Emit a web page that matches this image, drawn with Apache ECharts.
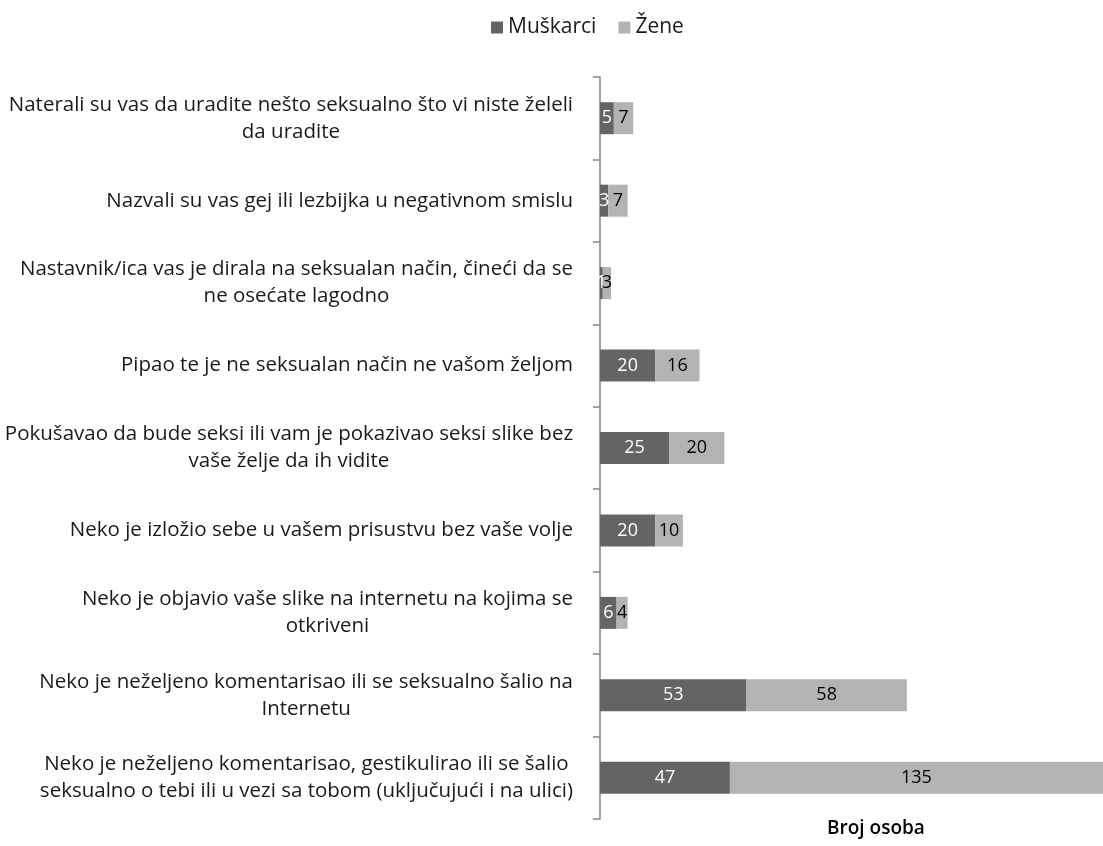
<!DOCTYPE html>
<html>
<head>
<meta charset="utf-8">
<script src="https://cdn.jsdelivr.net/npm/echarts@6/dist/echarts.min.js"></script>
<style>
  html, body { margin: 0; padding: 0; background: #fff; }
  #chart { width: 1103px; height: 846px; }
</style>
</head>
<body>
<div id="chart"></div>
<script>
// kategorije (odozgo nadole)
var categories = [
  'Naterali su vas da uradite nešto seksualno što vi niste želeli\nda uradite',
  'Nazvali su vas gej ili lezbijka u negativnom smislu',
  'Nastavnik/ica vas je dirala na seksualan način, čineći da se\nne osećate lagodno',
  'Pipao te je ne seksualan način ne vašom željom',
  'Pokušavao da bude seksi ili vam je pokazivao seksi slike bez\nvaše želje da ih vidite',
  'Neko je izložio sebe u vašem prisustvu bez vaše volje',
  'Neko je objavio vaše slike na internetu na kojima se\notkriveni',
  'Neko je neželjeno komentarisao ili se seksualno šalio na\nInternetu',
  'Neko je neželjeno komentarisao, gestikulirao ili se šalio\nseksualno o tebi ili u vezi sa tobom (uključujući i na ulici)'
]
var muskarci = [5, 3, 1, 20, 25, 20, 6, 53, 47]
var zene = [7, 7, 3, 16, 20, 10, 4, 58, 135]

var FONT = 'Open Sans'

var chart = echarts.init(document.getElementById('chart'))
chart.setOption({
  backgroundColor: '#ffffff',
  animation: false,
  textStyle: { fontFamily: FONT },
  legend: {
    top: 12,
    left: 486,
    icon: 'rect',
    itemWidth: 12,
    itemHeight: 12,
    itemGap: 22,
    textStyle: { fontSize: 21, color: '#1a1a1a', fontFamily: FONT },
    data: ['Muškarci', 'Žene']
  },
  grid: {
    top: 77,
    bottom: 27,
    left: 600,
    right: 0,
    containLabel: false
  },
  xAxis: {
    type: 'value',
    min: 0,
    max: 182,
    show: false,
    splitLine: { show: false }
  },
  // y osa sa kategorijama
  yAxis: {
    type: 'category',
    inverse: true,
    data: categories,
    axisLine: { show: true, lineStyle: { color: '#868686', width: 1.5 } },
    axisTick: { show: true, inside: false, length: 7, lineStyle: { color: '#868686', width: 1.5 } },
    axisLabel: {
      margin: 27,
      align: 'right',
      // svaki red centriran u bloku
      formatter: function (v) {
        return v.split('\n').map(function (s) { return '{c|' + s + '}' }).join('\n')
      },
      rich: {
        c: {
          align: 'center',
          fontSize: 20.5,
          lineHeight: 27,
          color: '#1a1a1a',
          fontFamily: FONT
        }
      }
    }
  },
  graphic: [{
    type: 'text',
    left: 827,
    top: 819,
    style: {
      text: 'Broj osoba',
      fontSize: 19,
      fontWeight: 600,
      fill: '#000',
      fontFamily: FONT
    }
  }],
  series: [{
    name: 'Muškarci',
    type: 'bar',
    stack: 'ukupno',
    barWidth: 32,
    itemStyle: { color: '#646464' },
    label: {
      show: true,
      position: 'inside',
      color: '#ffffff',
      fontSize: 18,
      fontFamily: FONT
    },
    data: muskarci
  }, {
    name: 'Žene',
    type: 'bar',
    stack: 'ukupno',
    barWidth: 32,
    itemStyle: { color: '#b3b3b3' },
    label: {
      show: true,
      position: 'inside',
      color: '#000000',
      fontSize: 18,
      fontFamily: FONT
    },
    data: zene
  }]
})
</script>
</body>
</html>
